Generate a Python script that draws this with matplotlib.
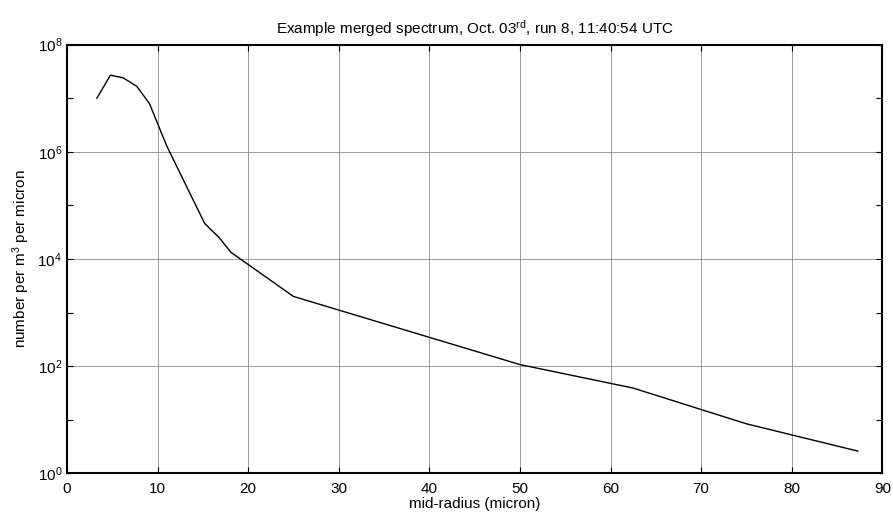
import numpy as np
import matplotlib
matplotlib.use('Agg')
import matplotlib.pyplot as plt
from matplotlib.ticker import FixedLocator, FixedFormatter

plt.rcParams['font.family'] = ['Liberation Sans', 'DejaVu Sans']
plt.rcParams['mathtext.default'] = 'regular'

# values
radius = [3.3, 4.8, 6.2, 7.7, 9.1, 11.0, 15.2, 16.8, 18.1, 25.0, 50.0, 62.5, 75.0, 87.3]
conc = [1.0e7, 2.7e7, 2.4e7, 1.67e7, 8.0e6, 1.3e6, 4.6e4, 2.5e4, 1.33e4, 2.0e3,
        107, 39, 8.4, 2.6]

xticks = list(range(0, 100, 10))
yticks = [1e0, 1e2, 1e4, 1e6, 1e8]
ylabels = ['$10^{0}$', '$10^{2}$', '$10^{4}$', '$10^{6}$', '$10^{8}$']
yminor = [1e1, 1e3, 1e5, 1e7]

fig = plt.figure(figsize=(8.93, 5.19), dpi=100)
ax = fig.add_axes([0.075, 0.088, 0.913, 0.826])

ax.semilogy(radius, conc, color='black', lw=1.0)

ax.set_xlim(0, 90)
ax.set_ylim(1, 1e8)
ax.xaxis.set_major_locator(FixedLocator(xticks))
ax.yaxis.set_major_locator(FixedLocator(yticks))
ax.yaxis.set_major_formatter(FixedFormatter(ylabels))
ax.yaxis.set_minor_locator(FixedLocator(yminor))
ax.yaxis.set_minor_formatter(FixedFormatter([''] * len(yminor)))

ax.grid(True, which='major', color='#8c8c8c', lw=0.6)
ax.tick_params(which='both', direction='in', top=True, right=True,
               labelsize=11, width=0.8)
ax.tick_params(which='major', length=4)
ax.tick_params(which='minor', length=4)
ax.tick_params(axis='x', pad=6)
for s in ax.spines.values():
    s.set_linewidth(1.5)

ax.set_xlabel('mid-radius (micron)', fontsize=11, labelpad=1)
ax.set_ylabel('number per m$^{3}$ per micron', fontsize=11, labelpad=4)
ax.set_title('Example merged spectrum, Oct. 03$^{rd}$, run 8, 11:40:54 UTC',
             fontsize=11, pad=8)

fig.savefig('out.png', dpi=100)
